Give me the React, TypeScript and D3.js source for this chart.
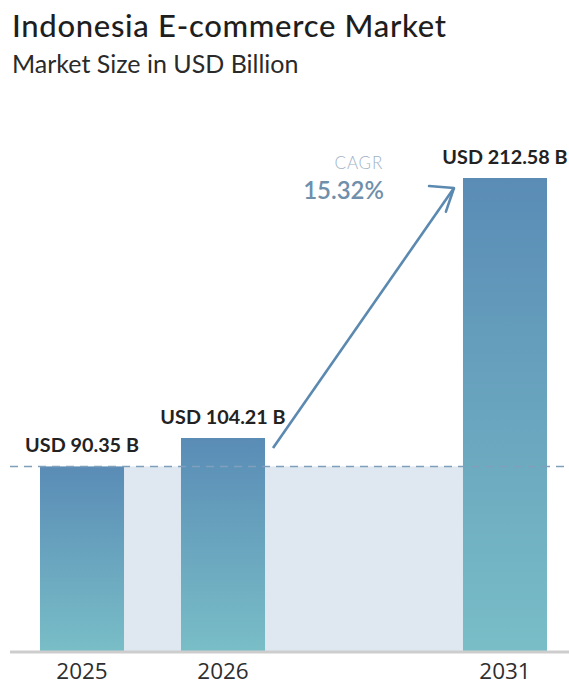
import React from "react";
import * as d3 from "d3";

const slots = ["2025", "2026", "gap", "2031"];
const years = ["2025", "2026", "2031"];
const values = [90.35, 104.21, 212.58];
const valueLabels = ["USD 90.35 B", "USD 104.21 B", "USD 212.58 B"];
const titleText = "Indonesia E-commerce Market";
const subtitleText = "Market Size in USD Billion";
const cagrLabel = "CAGR";
const cagrValue = "15.32%";

const W = 569;
const H = 685;

export default function App() {
  const x = d3
    .scaleBand<string>()
    .domain(slots)
    .range([11.5, 575.5])
    .paddingInner(0.404)
    .paddingOuter(0.202);
  const baseY = 652;
  // broken (piecewise) value axis, as in the reference
  const y = d3
    .scaleLinear()
    .domain([0, values[1], values[2]])
    .range([baseY, 438, 178]);

  const bw = x.bandwidth();
  const firstX = x(years[0])!;
  const lastX = x(years[2])! + bw;
  const refY = y(values[0]);

  // arrow from 2026 bar to 2031 bar
  const ax1 = x(years[1])! + bw + 8;
  const ay1 = y(values[1]) + 10;
  const ax2 = x(years[2])! - 9;
  const ay2 = y(values[2]) + 10;
  const ang = Math.atan2(ay1 - ay2, ax1 - ax2);
  const wing = 25;
  const dir = ang + 0.38;
  const half = 0.66;
  const w1x = ax2 + wing * Math.cos(dir + half);
  const w1y = ay2 + wing * Math.sin(dir + half);
  const w2x = ax2 + wing * Math.cos(dir - half);
  const w2y = ay2 + wing * Math.sin(dir - half);

  return (
    <svg
      width={W}
      height={H}
      style={{ position: "absolute", left: 0, top: 0, background: "#fff" }}
    >
      <defs>
        <linearGradient id="barGrad" x1="0" y1="0" x2="0" y2="1">
          <stop offset="0%" stopColor="#5a8cb6" />
          <stop offset="100%" stopColor="#79bec7" />
        </linearGradient>
      </defs>
      <text
        x={12}
        y={37}
        fontFamily="Lato"
        fontWeight={500}
        fontSize={31}
        letterSpacing={0.7}
        fill="#1e1e1e"
      >
        {titleText}
      </text>
      <text
        x={12}
        y={73}
        fontFamily="Lato"
        fontWeight={400}
        fontSize={25}
        fill="#2a2a2a"
      >
        {subtitleText}
      </text>

      {/* shaded reference band */}
      <rect
        x={firstX}
        y={refY}
        width={lastX - firstX}
        height={baseY - refY}
        fill="#dfe8f1"
      />
      {years.map((yr, i) => (
        <rect
          key={yr}
          x={x(yr)!}
          y={y(values[i])}
          width={bw}
          height={baseY - y(values[i])}
          fill="url(#barGrad)"
        />
      ))}
      <line
        x1={10}
        x2={W}
        y1={refY}
        y2={refY}
        stroke="#7f9fba"
        strokeWidth={1.5}
        strokeDasharray="8 6"
      />
      <line
        x1={10}
        x2={W}
        y1={baseY}
        y2={baseY}
        stroke="#cdcdcd"
        strokeWidth={3}
      />

      {years.map((yr, i) => (
        <text
          key={"v" + yr}
          x={x(yr)! + bw / 2}
          y={y(values[i]) - 14.5}
          textAnchor="middle"
          fontFamily="Lato"
          fontWeight={700}
          fontSize={19.8}
          fill="#222"
        >
          {valueLabels[i]}
        </text>
      ))}
      {years.map((yr) => (
        <text
          key={"y" + yr}
          x={x(yr)! + bw / 2}
          y={679}
          textAnchor="middle"
          fontFamily="Open Sans"
          fontSize={22.5}
          fill="#2e2e2e"
        >
          {yr}
        </text>
      ))}

      {/* CAGR arrow */}
      <line
        x1={ax1}
        y1={ay1}
        x2={ax2}
        y2={ay2}
        stroke="#5b89b0"
        strokeWidth={2.6}
      />
      <path
        d={`M${w1x},${w1y}L${ax2},${ay2}L${w2x},${w2y}`}
        fill="none"
        stroke="#5b89b0"
        strokeWidth={2.6}
        strokeLinecap="round"
        strokeLinejoin="round"
      />
      <text
        x={383}
        y={169}
        textAnchor="end"
        fontFamily="Lato"
        fontWeight={300}
        fontSize={17}
        letterSpacing={0.8}
        fill="#9fb3c6"
      >
        {cagrLabel}
      </text>
      <text
        x={384}
        y={199}
        textAnchor="end"
        fontFamily="Lato"
        fontWeight={600}
        fontSize={24}
        fill="#6f8fab"
      >
        {cagrValue}
      </text>
    </svg>
  );
}
